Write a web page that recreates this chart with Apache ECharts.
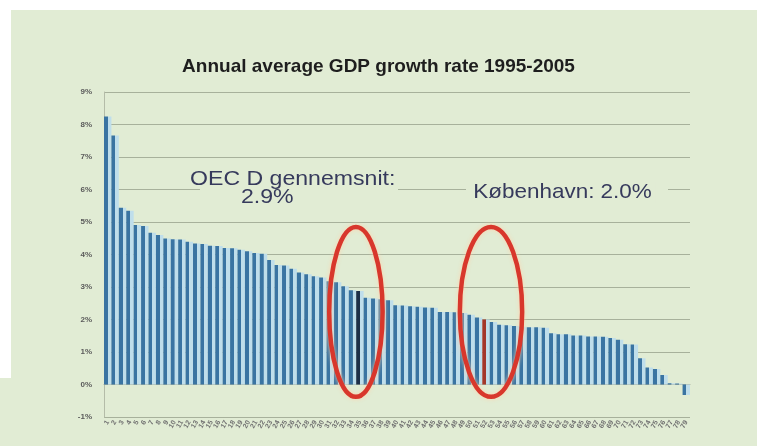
<!DOCTYPE html>
<html><head><meta charset="utf-8">
<script src="https://cdn.jsdelivr.net/npm/echarts@6/dist/echarts.min.js"></script>
<style>
html,body{margin:0;padding:0;background:#fff;}
#wrap{position:relative;width:757px;height:446px;background:#e1ecd4;overflow:hidden}
#chart{position:absolute;left:0;top:0;width:757px;height:446px;}
.w{position:absolute;background:#fff}
</style></head><body>
<div id="wrap"><div id="chart"></div>
<div class="w" style="left:0;top:0;width:757px;height:10px"></div>
<div class="w" style="left:0;top:0;width:11px;height:378px"></div>
</div>
<script>
// --- data (ranked regions, % annual GDP growth) ---
const categories = ['1','2','3','4','5','6','7','8','9','10','11','12','13','14','15','16','17','18','19','20',
 '21','22','23','24','25','26','27','28','29','30','31','32','33','34','35','36','37','38','39','40',
 '41','42','43','44','45','46','47','48','49','50','51','52','53','54','55','56','57','58','59','60',
 '61','62','63','64','65','66','67','68','69','70','71','72','73','74','75','76','77','78','79'];
const growth = [8.25,7.66,5.44,5.35,4.91,4.88,4.67,4.60,4.49,4.47,
 4.46,4.39,4.34,4.32,4.27,4.26,4.20,4.19,4.15,4.10,
 4.05,4.02,3.83,3.68,3.66,3.56,3.45,3.39,3.33,3.29,
 3.18,3.15,3.02,2.90,2.88,2.67,2.65,2.62,2.59,2.44,
 2.43,2.41,2.39,2.37,2.36,2.23,2.23,2.22,2.20,2.15,
 2.06,2.00,1.92,1.84,1.82,1.80,1.78,1.76,1.76,1.75,
 1.58,1.55,1.55,1.51,1.51,1.48,1.48,1.47,1.43,1.38,
 1.24,1.23,0.81,0.52,0.48,0.29,0.04,0.03,-0.32];
const oecdIndex = 34;   // dark bar: OECD average
const cphIndex = 51;    // red bar: København
const yMin = -1, yMax = 9, yStep = 1;
const titleText = 'Annual average GDP growth rate 1995-2005';
const oecdLine1 = 'OEC D gennemsnit:';
const oecdLine2 = '2.9%';
const cphLabel = 'København: 2.0%';

const BG = '#e1ecd4';
function barColor(dark){
  return new echarts.graphic.LinearGradient(0,0,1,0,[
    {offset:0,color:dark},{offset:0.5,color:dark},
    {offset:0.51,color:'#bfdeeb'},{offset:1,color:'#bfdeeb'}]);
}
const seriesData = growth.map((v,i)=>({
  value:v,
  itemStyle:{color: barColor(i===oecdIndex ? '#1d2f48' : (i===cphIndex ? '#a3372a' : '#3a74a2'))}
}));

const chart = echarts.init(document.getElementById('chart'), null, {renderer:'canvas'});
chart.setOption({
  animation:false,
  backgroundColor:'transparent',
  title:{text:titleText,left:'center',top:52,
    textStyle:{fontFamily:'Liberation Sans',fontWeight:'bold',fontSize:19,color:'#1e1e1e'}},
  grid:{left:104,right:67,top:92,bottom:29,containLabel:false},
  xAxis:{type:'category',data:categories,
    axisLine:{show:true,onZero:true,lineStyle:{color:'#a9b3a0'}},
    axisTick:{show:false},
    axisLabel:{interval:0,rotate:60,fontSize:7,fontWeight:'bold',color:'#707070',margin:4,fontFamily:'Liberation Sans'},
    splitLine:{show:false}},
  yAxis:{type:'value',min:yMin,max:yMax,interval:yStep,
    axisLine:{show:true,lineStyle:{color:'#b4bca8'}},
    axisTick:{show:false},
    axisLabel:{formatter:v=>v+'%',fontSize:8,fontWeight:'bold',color:'#5a5a5a',margin:12,fontFamily:'Liberation Sans'},
    splitLine:{lineStyle:{color:'#a7b19b',width:1}}},
  series:[{type:'bar',data:seriesData,barCategoryGap:'0%',barGap:'0%'}]
});

function px(i,v){ return chart.convertToPixel({seriesIndex:0},[i,v]); }
const a = px(oecdIndex, 4.85), b = px(oecdIndex, -0.38);
const c = px(cphIndex, 4.85), d = px(cphIndex, -0.38);
const cw = px(1,0)[0]-px(0,0)[0];
const ell = (cx,top,bot,rx)=>({type:'ellipse',z:100,
  shape:{cx:cx,cy:(top+bot)/2,rx:rx,ry:(bot-top)/2},
  style:{fill:'none',stroke:'#d8372c',lineWidth:4.5,shadowBlur:4,shadowColor:'rgba(255,210,170,0.9)'}});
const tstyle = {fontFamily:'Liberation Sans',fontSize:21,fill:'#363a5c'};
chart.setOption({graphic:[
  {type:'rect',z:80,shape:{x:200,y:164,width:198,height:46},style:{fill:BG,stroke:null}},
  {type:'text',z:90,x:190,y:169,scaleX:1.1,style:Object.assign({text:oecdLine1},tstyle)},
  {type:'text',z:91,x:241,y:187,scaleX:1.1,style:Object.assign({text:oecdLine2},tstyle)},
  {type:'rect',z:80,shape:{x:466,y:176,width:202,height:28},style:{fill:BG,stroke:null}},
  {type:'text',z:90,x:470,y:182,scaleX:1.07,style:Object.assign({text:cphLabel,backgroundColor:BG,padding:[0,3,0,3]},tstyle)},
  ell(a[0]-4, a[1], b[1], 3.6*cw),
  ell(c[0]+5, c[1], d[1], 4.2*cw)
]});
</script>
</body></html>
